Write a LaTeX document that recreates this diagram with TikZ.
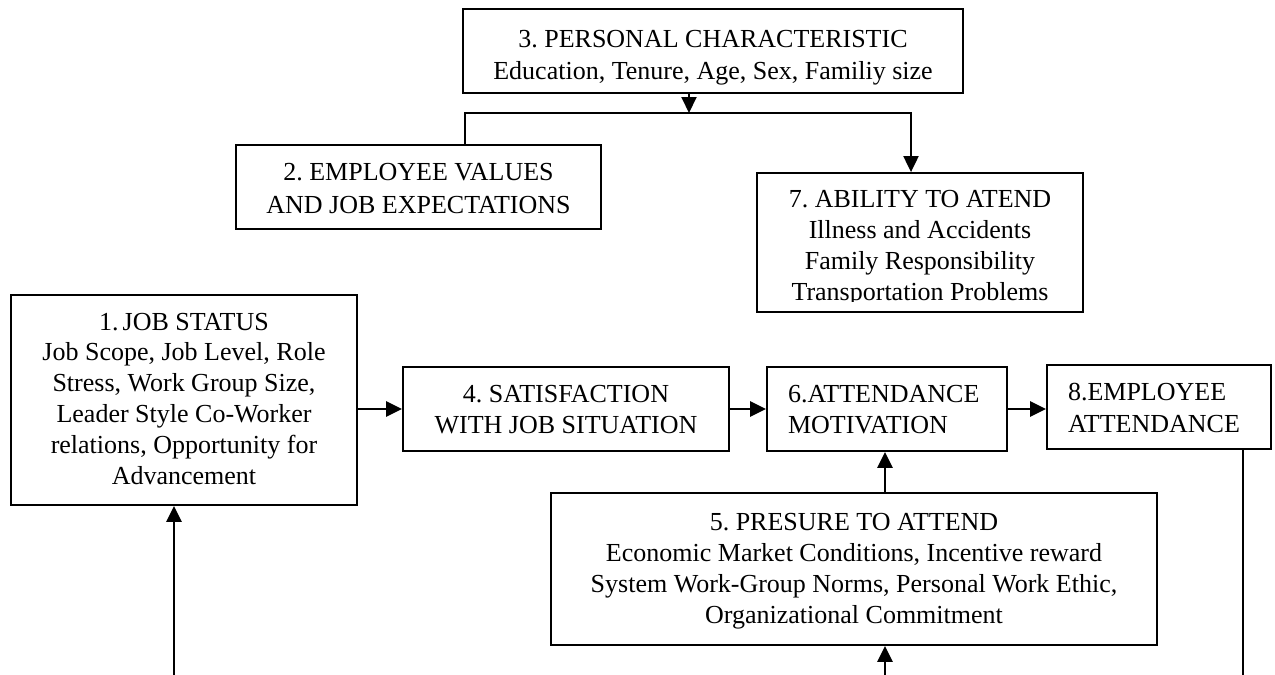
\documentclass[tikz,border=0pt]{standalone}
\usepackage{fontspec}
\setmainfont{Liberation Serif}
\usetikzlibrary{arrows.meta}
\frenchspacing

\begin{document}
\begin{tikzpicture}[x=1pt,y=-1pt,
  box/.style={draw, line width=1.8pt, inner sep=0pt, align=center,
              font=\fontsize{26}{31}\selectfont},
  lbox/.style={draw, line width=1.8pt, inner ysep=0pt, inner xsep=21pt, align=left,
              font=\fontsize{26}{31}\selectfont},
  txt/.style={inner sep=0pt, align=center, font=\fontsize{26}{30.7}\selectfont},
  tip/.style={-{Triangle[length=16pt,width=15pt]}},
  arr/.style={line width=2.5pt, tip},
  tie/.style={line width=2pt}]
\useasboundingbox (0,0) rectangle (1275,675);

% 3. personal characteristics (top)
\node[box, minimum width=500pt, text height=70pt, text depth=14pt,
      font=\fontsize{26}{32}\selectfont] (b3) at (713,51)
  {3. PERSONAL CHARACTERISTIC\\Education, Tenure, Age, Sex, Familiy size};

% 2. employee values
\node[box, minimum width=365pt, text height=68pt, text depth=16pt,
      font=\fontsize{26}{33}\selectfont] (b2) at (418.5,187)
  {2. EMPLOYEE VALUES\\AND JOB EXPECTATIONS};

% 7. ability to attend (last line cut by the frame)
\node[draw, line width=1.8pt, inner sep=0pt, minimum width=326pt, minimum height=139pt]
  (b7) at (920,242.5) {};
\begin{scope}
  \clip (757,173) rectangle (1083,301);
  \node[txt, anchor=base] (b7t) at (920,300)
    {7. ABILITY TO ATEND\\Illness and Accidents\\Family Responsibility\\Transportation Problems};
\end{scope}

% 1. job status
\node[box, minimum width=346pt, text height=189pt, text depth=21pt,
      font=\fontsize{26}{30.8}\selectfont] (b1) at (184,400)
  {1.\hspace{4pt}JOB STATUS\\Job Scope, Job Level, Role\\Stress, Work Group Size,\\Leader Style Co-Worker\\relations, Opportunity for\\Advancement};

% 4. satisfaction
\node[box, minimum width=326pt, text height=66pt, text depth=18pt] (b4) at (566,409)
  {4. SATISFACTION\\WITH JOB SITUATION};

% 6. attendance motivation
\node[lbox, text width=198pt, text height=35pt, text depth=49pt] (b6) at (887,409)
  {6.ATTENDANCE\\MOTIVATION};

% 8. employee attendance
\node[lbox, text width=182pt, text height=35pt, text depth=49pt,
      font=\fontsize{26}{32}\selectfont] (b8) at (1159,407)
  {8.EMPLOYEE\\ATTENDANCE};

% 5. pressure to attend
\node[box, minimum width=606pt, text height=130pt, text depth=22pt,
      font=\fontsize{26}{30.7}\selectfont] (b5) at (854,569)
  {5. PRESURE TO ATTEND\\Economic Market Conditions, Incentive reward\\System Work-Group Norms, Personal Work Ethic,\\Organizational Commitment};

% junction points and free ends
\coordinate (j)  at (689,113);
\coordinate (jl) at (465,113);
\coordinate (jr) at (911,113);
\coordinate (e1) at (174,675);
\coordinate (e5) at (885,675);
\coordinate (e8) at (1243,675);

% connectors
\draw[arr, line width=2pt] (b3.south -| j) -- (j);
\draw[tie, tip] (b2.north -| jl) -- (jl) -- (jr) -- (b7.north -| jr);
\draw[arr] (b1.east |- b4.west) -- (b4.west);
\draw[arr] (b4.east) -- (b6.west);
\draw[arr] (b6.east) -- (b8.west |- b6.east);
\draw[arr] (b5.north -| e5) -- (b6.south -| e5);
\draw[arr] (e5) -- (b5.south -| e5);
\draw[arr] (e1) -- (b1.south -| e1);
\draw[tie] (b8.south -| e8) -- (e8);
\end{tikzpicture}
\end{document}
